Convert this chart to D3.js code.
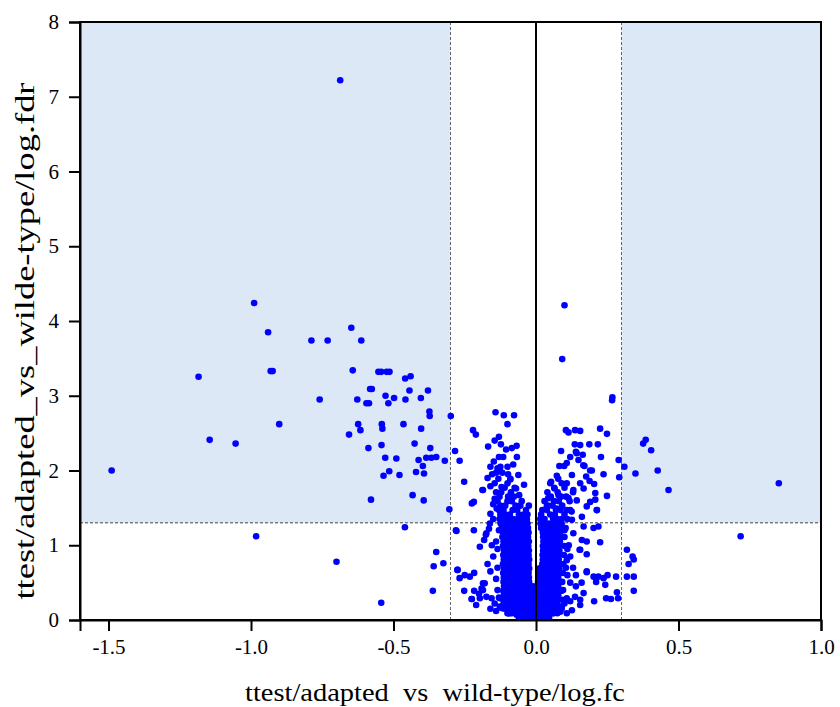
<!DOCTYPE html>
<html>
<head>
<meta charset="utf-8">
<script src="https://cdn.jsdelivr.net/npm/d3@7"></script>
<style>
  body { margin: 0; background: #fff; }
  svg text { font-family: "Liberation Serif", "Times New Roman", Tinos, "DejaVu Serif", serif; fill: #000; }
</style>
</head>
<body>
<div id="chart"></div>
<script>
// volcano plot: log fold change vs -log fdr

const xTicks = [-1.5, -1.0, -0.5, 0.0, 0.5, 1.0];
const yTicks = [0, 1, 2, 3, 4, 5, 6, 7, 8];
const fcCut = 0.3;
const fdrCut = 1.3;
const xLabel = 'ttest/adapted  vs  wild-type/log.fc';
const yLabel = 'ttest/adapted_vs_wilde-type/log.fdr';
const serif = '"Liberation Serif", "Times New Roman", Tinos, "DejaVu Serif", serif';

// isolated points far from the cloud [fc, fdr]
const farPoints = [
  [-0.687,7.22],[-0.989,4.24],[-0.94,3.85],[-0.931,3.33],[-0.924,3.33],[-1.184,3.255],
  [-0.901,2.62],[-1.145,2.41],[-1.054,2.36],[-1.489,2.0],[-0.982,1.12],[-0.70,0.78],
  [0.718,1.12],[0.852,1.83],[0.465,1.74],[0.376,2.36],[0.385,2.41],[0.404,2.27],
  [0.427,2.0],[0.349,1.96],[0.310,2.05],[0.290,2.14],[0.292,1.91],[0.319,0.94],
  [0.339,0.85],[0.325,0.75],[0.343,0.81],[0.319,0.58],[0.343,0.58],[0.343,0.39],
  [0.268,2.98],[0.267,2.94],[0.1,4.21],[0.092,3.49]
];

// left significant group
const leftSig = [
  [-0.648,3.91],[-0.788,3.74],[-0.731,3.74],[-0.613,3.74],[-0.643,3.34],[-0.553,3.32],
  [-0.543,3.32],[-0.524,3.32],[-0.514,3.32],[-0.459,3.23],[-0.44,3.26],[-0.582,3.09],
  [-0.576,3.09],[-0.444,3.07],[-0.379,3.07],[-0.759,2.95],[-0.627,2.95],[-0.528,3.0],
  [-0.498,2.97],[-0.518,2.9],[-0.595,2.9],[-0.586,2.9],[-0.458,2.95],[-0.404,2.97],
  [-0.374,2.79],[-0.373,2.73],[-0.624,2.62],[-0.541,2.62],[-0.539,2.56],[-0.616,2.54],
  [-0.656,2.48],[-0.465,2.62],[-0.403,2.56],[-0.588,2.3],[-0.542,2.34],[-0.426,2.36],
  [-0.371,2.3],[-0.529,2.17],[-0.49,2.16],[-0.412,2.14],[-0.385,2.17],[-0.367,2.17],
  [-0.35,2.18],[-0.32,2.13],[-0.397,2.06],[-0.515,1.99],[-0.535,1.93],[-0.479,1.94],
  [-0.421,1.98],[-0.393,1.96],[-0.579,1.61],[-0.433,1.67],[-0.394,1.6],[-0.304,1.48],
  [-0.46,1.24],[-0.543,0.23],[-0.35,0.91],[-0.359,0.72],[-0.325,0.76],[-0.362,0.39]
];

// scattered points left of zero, outside the dense core
const leftFlank = [
  [-0.299,2.73],[-0.284,2.26],[-0.268,2.13],[-0.281,1.2],[-0.218,1.2],[-0.275,0.67],
  [-0.268,0.56],[-0.25,0.6],[-0.232,0.58],[-0.217,0.63],[-0.252,0.39],[-0.217,0.39],
  [-0.225,0.28],[-0.252,1.85],[-0.221,2.54],[-0.211,2.48],[-0.218,1.58],[-0.225,1.56],
  [-0.142,2.78],[-0.113,2.74],[-0.077,2.74],[-0.1,2.62],[-0.168,2.32],[-0.123,2.35],
  [-0.068,2.33],[-0.067,2.18],[-0.13,2.18],[-0.115,2.18],[-0.148,2.12],[-0.154,1.95],
  [-0.098,1.95],[-0.062,1.94],[-0.127,2.0],[-0.135,2.03],[-0.188,1.74],[-0.16,1.79],
  [-0.121,1.78],[-0.042,1.81],[-0.059,1.67],[-0.098,1.65],[-0.138,1.49],[-0.025,1.53],
  [-0.162,1.29],[-0.279,1.19],[-0.176,1.14],[-0.197,0.98],[-0.182,1.07],[-0.15,0.85],
  [-0.056,1.29],[-0.276,0.67],[-0.226,0.28],[-0.197,0.29],[-0.18,0.49],[-0.191,0.42],
  [-0.156,0.29],[-0.127,0.29],[-0.121,0.16],[-0.098,0.09],[-0.186,1.74],[-0.174,1.16],
  [-0.186,0.49],[-0.186,0.4],[-0.174,0.31],[-0.127,0.18],[-0.092,0.09],[-0.068,0.07],
  [-0.16,2.05],[-0.145,2.4],[-0.13,2.45],[-0.085,2.3],[-0.08,2.08],[-0.105,2.28],
  [-0.09,1.88],[-0.07,1.76],[-0.145,1.62],[-0.16,1.42],[-0.15,1.35],[-0.14,1.05],
  [-0.135,0.7],[-0.14,0.55],[-0.135,0.4],[-0.145,0.22],
  [-0.16,0.65],[-0.17,0.75],[-0.155,1.0],[-0.165,1.22],[-0.15,1.55],[-0.17,1.9],
  [-0.14,0.12],[-0.16,0.15],[-0.2,0.35],[-0.21,0.2],[-0.135,0.95],[-0.13,1.2],[-0.13,0.3]
];

// scattered points right of zero, outside the dense core
const rightFlank = [
  [0.105,2.54],[0.114,2.51],[0.137,2.54],[0.155,2.53],[0.225,2.56],[0.249,2.49],
  [0.136,2.35],[0.155,2.34],[0.187,2.35],[0.217,2.35],[0.088,2.26],[0.14,2.25],
  [0.12,2.18],[0.164,2.21],[0.228,2.18],[0.108,2.1],[0.082,2.06],[0.099,2.06],
  [0.17,2.06],[0.149,2.14],[0.196,2.0],[0.237,1.95],[0.126,1.94],[0.073,1.93],
  [0.176,1.92],[0.053,1.85],[0.108,1.83],[0.155,1.83],[0.188,1.86],[0.204,1.82],
  [0.065,1.76],[0.131,1.74],[0.167,1.76],[0.208,1.7],[0.249,1.66],[0.043,1.63],
  [0.079,1.67],[0.114,1.63],[0.143,1.6],[0.208,1.61],[0.038,1.52],[0.073,1.49],
  [0.108,1.47],[0.178,1.52],[0.214,1.47],[0.161,1.38],[0.126,1.34],[0.167,1.25],
  [0.202,1.23],[0.219,1.25],[0.131,1.16],[0.161,1.07],[0.225,1.04],[0.178,1.05],
  [0.178,0.88],[0.153,0.94],[0.108,0.8],[0.178,0.64],[0.202,0.58],[0.219,0.58],
  [0.237,0.56],[0.251,0.6],[0.281,0.58],[0.243,0.47],[0.211,0.51],[0.284,0.37],
  [0.288,0.29],[0.246,0.29],[0.263,0.28],[0.204,0.25],[0.167,0.36],[0.137,0.31],
  [0.108,0.29],[0.155,0.2],[0.126,0.13],[0.09,0.18],[0.061,0.09],[0.143,2.23],
  [0.166,2.07],[0.19,2.0],[0.19,1.58],[0.213,1.47],[0.155,0.94],[0.178,0.65],
  [0.155,0.27],[0.108,0.09],[0.085,0.11],[0.12,0.5],[0.13,0.7],[0.115,1.0],[0.14,0.45],
  [0.11,0.6],[0.12,0.85],[0.1,1.2],[0.125,1.45],[0.095,0.4],[0.1,0.22],[0.12,0.25],
  [0.14,0.6],[0.16,0.5],[0.105,0.7],[0.11,0.95]
];

// dense core, read row by row: [fdr, [fc, fc, ...]]
const leftCoreRows = [
  [0.03, [-0.06,-0.045,-0.03,-0.016,-0.004]],
  [0.09, [-0.1,-0.085,-0.07,-0.055,-0.04,-0.026,-0.012,-0.003]],
  [0.15, [-0.112,-0.097,-0.082,-0.067,-0.052,-0.037,-0.022,-0.008]],
  [0.21, [-0.114,-0.099,-0.084,-0.069,-0.054,-0.039,-0.024,-0.007]],
  [0.27, [-0.115,-0.1,-0.085,-0.07,-0.055,-0.04,-0.025,-0.008]],
  [0.33, [-0.113,-0.098,-0.083,-0.068,-0.053,-0.038,-0.023,-0.008]],
  [0.39, [-0.115,-0.1,-0.085,-0.07,-0.055,-0.04,-0.025,-0.009]],
  [0.45, [-0.112,-0.097,-0.082,-0.067,-0.052,-0.037,-0.022,-0.01]],
  [0.51, [-0.114,-0.099,-0.084,-0.069,-0.054,-0.039,-0.024]],
  [0.57, [-0.113,-0.098,-0.083,-0.068,-0.053,-0.038,-0.025]],
  [0.63, [-0.115,-0.1,-0.085,-0.07,-0.055,-0.04,-0.026]],
  [0.69, [-0.112,-0.097,-0.082,-0.067,-0.052,-0.037,-0.024]],
  [0.75, [-0.116,-0.101,-0.086,-0.071,-0.056,-0.041,-0.026]],
  [0.81, [-0.113,-0.098,-0.083,-0.068,-0.053,-0.038,-0.024]],
  [0.87, [-0.115,-0.1,-0.085,-0.07,-0.055,-0.04,-0.026]],
  [0.93, [-0.112,-0.097,-0.082,-0.067,-0.052,-0.037,-0.025]],
  [0.99, [-0.116,-0.101,-0.086,-0.071,-0.056,-0.041,-0.027]],
  [1.05, [-0.114,-0.099,-0.084,-0.069,-0.054,-0.039,-0.025]],
  [1.11, [-0.118,-0.103,-0.088,-0.073,-0.058,-0.043,-0.028]],
  [1.17, [-0.116,-0.101,-0.086,-0.071,-0.056,-0.041,-0.026]],
  [1.23, [-0.12,-0.105,-0.09,-0.075,-0.06,-0.045,-0.028]],
  [1.29, [-0.124,-0.109,-0.094,-0.079,-0.064,-0.049,-0.03]],
  [1.35, [-0.128,-0.112,-0.096,-0.08,-0.064,-0.048,-0.032]],
  [1.41, [-0.125,-0.108,-0.092,-0.06,-0.044,-0.03]],
  [1.47, [-0.13,-0.114,-0.082,-0.066,-0.035]],
  [1.53, [-0.125,-0.108,-0.072,-0.055]],
  [1.59, [-0.135,-0.1,-0.085,-0.05]],
  [1.65, [-0.128,-0.094,-0.078]],
  [1.71, [-0.14,-0.122,-0.088]],
  [1.77, [-0.11,-0.075]],
  [1.83, [-0.145,-0.1]],
  [1.89, [-0.132,-0.09]],
  [1.97, [-0.14,-0.118]],
  [2.05, [-0.125,-0.1]]
];

const rightCoreRows = [
  [0.03, [0.004,0.018,0.032,0.046]],
  [0.09, [0.004,0.018,0.032,0.046,0.06,0.075]],
  [0.15, [0.005,0.019,0.033,0.047,0.061,0.076,0.09]],
  [0.21, [0.005,0.019,0.033,0.047,0.061,0.075]],
  [0.27, [0.006,0.02,0.034,0.048,0.062,0.076,0.092]],
  [0.33, [0.006,0.02,0.034,0.048,0.062,0.078]],
  [0.39, [0.006,0.02,0.034,0.048,0.062,0.076,0.09]],
  [0.45, [0.007,0.021,0.035,0.049,0.063,0.078]],
  [0.51, [0.007,0.021,0.035,0.049,0.063,0.077,0.092]],
  [0.57, [0.008,0.022,0.036,0.05,0.064,0.078]],
  [0.63, [0.008,0.022,0.036,0.05,0.064,0.078,0.094]],
  [0.69, [0.012,0.026,0.04,0.054,0.068,0.082]],
  [0.75, [0.022,0.036,0.05,0.064,0.079,0.096]],
  [0.81, [0.024,0.038,0.052,0.066,0.08]],
  [0.87, [0.023,0.037,0.051,0.065,0.08,0.098]],
  [0.93, [0.025,0.039,0.053,0.067,0.082]],
  [0.99, [0.024,0.038,0.052,0.066,0.08,0.1]],
  [1.05, [0.026,0.04,0.054,0.068,0.084]],
  [1.11, [0.025,0.039,0.053,0.067,0.081,0.1]],
  [1.17, [0.024,0.038,0.052,0.066,0.085]],
  [1.23, [0.018,0.032,0.046,0.06,0.074,0.088,0.104]],
  [1.29, [0.016,0.03,0.044,0.058,0.072,0.09]],
  [1.35, [0.015,0.03,0.06,0.075,0.09,0.11]],
  [1.41, [0.018,0.05,0.066,0.1]],
  [1.47, [0.022,0.038,0.07,0.086,0.12]],
  [1.53, [0.042,0.058,0.092]],
  [1.59, [0.03,0.063,0.08,0.118]],
  [1.65, [0.052,0.088,0.106]],
  [1.71, [0.04,0.076,0.13]],
  [1.77, [0.064,0.1]],
  [1.83, [0.05,0.09]],
  [1.89, [0.078]]
];

function drawVolcano(rootDom) {
  const width = 840, height = 707;
  const margin = {top: 22, right: 19, bottom: 87, left: 80};

  const svg = d3.select(rootDom).append('svg')
    .attr('width', width)
    .attr('height', height)
    .style('font-family', serif);

  const x = d3.scaleLinear().domain([-1.6, 1.0]).range([margin.left, width - margin.right]);
  const y = d3.scaleLinear().domain([0, 8]).range([height - margin.bottom, margin.top]);

  // shaded significant zones
  const zones = [[-1.6, -fcCut], [fcCut, 1.0]];
  svg.selectAll('.zone').data(zones).enter().append('rect')
    .attr('class', 'zone')
    .attr('x', d => x(d[0]))
    .attr('y', y(8))
    .attr('width', d => x(d[1]) - x(d[0]))
    .attr('height', y(fdrCut) - y(8))
    .style('fill', '#dce8f5');

  // threshold lines
  svg.selectAll('.vcut').data([-fcCut, fcCut]).enter().append('line')
    .attr('class', 'vcut')
    .attr('x1', d => x(d)).attr('x2', d => x(d))
    .attr('y1', y(8)).attr('y2', y(0))
    .style('stroke', '#666').style('stroke-width', '1px').style('stroke-dasharray', '3,2');
  svg.append('line')
    .attr('x1', x(-1.6)).attr('x2', x(1.0))
    .attr('y1', y(fdrCut)).attr('y2', y(fdrCut))
    .style('stroke', '#444').style('stroke-width', '1px').style('stroke-dasharray', '3,2');

  // flatten core rows into points
  const core = [];
  leftCoreRows.concat(rightCoreRows).forEach(r => {
    r[1].forEach(fc => core.push([fc, r[0]]));
  });
  const allPoints = core.concat(leftFlank, rightFlank, leftSig, farPoints);

  svg.selectAll('.dot').data(allPoints).enter().append('circle')
    .attr('class', 'dot')
    .attr('cx', d => x(d[0]))
    .attr('cy', d => y(d[1]))
    .attr('r', 3.3)
    .style('fill', '#0000ff');

  // zero line
  svg.append('line')
    .attr('x1', x(0)).attr('x2', x(0))
    .attr('y1', y(8)).attr('y2', y(0))
    .style('stroke', '#000').style('stroke-width', '2px');

  // frame
  svg.append('rect')
    .attr('x', x(-1.6)).attr('y', y(8))
    .attr('width', x(1.0) - x(-1.6)).attr('height', y(0) - y(8))
    .style('fill', 'none').style('stroke', '#000').style('stroke-width', '2px');

  const xAxis = svg.append('g')
    .attr('transform', `translate(0,${y(0)})`)
    .call(d3.axisBottom(x).tickValues(xTicks).tickSize(11).tickPadding(8));
  const yAxis = svg.append('g')
    .attr('transform', `translate(${x(-1.6)},0)`)
    .call(d3.axisLeft(y).tickValues(yTicks).tickFormat(d3.format('d')).tickSize(11).tickPadding(10));

  [xAxis, yAxis].forEach(g => {
    g.attr('font-family', null).attr('font-size', null);
    g.select('.domain').style('stroke', '#000').style('stroke-width', '2px');
    g.selectAll('.tick line').style('stroke', '#000').style('stroke-width', '2px');
    g.selectAll('.tick text')
      .style('font-family', serif)
      .style('font-size', '21px')
      .style('fill', '#000');
  });
  // plain hyphen minus like the original
  xAxis.selectAll('.tick text').text(d => d.toFixed(1));

  svg.append('text')
    .attr('x', 435).attr('y', 701)
    .attr('text-anchor', 'middle')
    .attr('textLength', 380)
    .attr('lengthAdjust', 'spacingAndGlyphs')
    .style('font-family', serif)
    .style('font-size', '26px')
    .style('white-space', 'pre')
    .text(xLabel);

  svg.append('text')
    .attr('transform', 'translate(34,341) rotate(-90)')
    .attr('text-anchor', 'middle')
    .attr('textLength', 517)
    .attr('lengthAdjust', 'spacingAndGlyphs')
    .style('font-family', serif)
    .style('font-size', '28px')
    .text(yLabel);
}

drawVolcano(document.getElementById('chart'));
</script>
</body>
</html>
